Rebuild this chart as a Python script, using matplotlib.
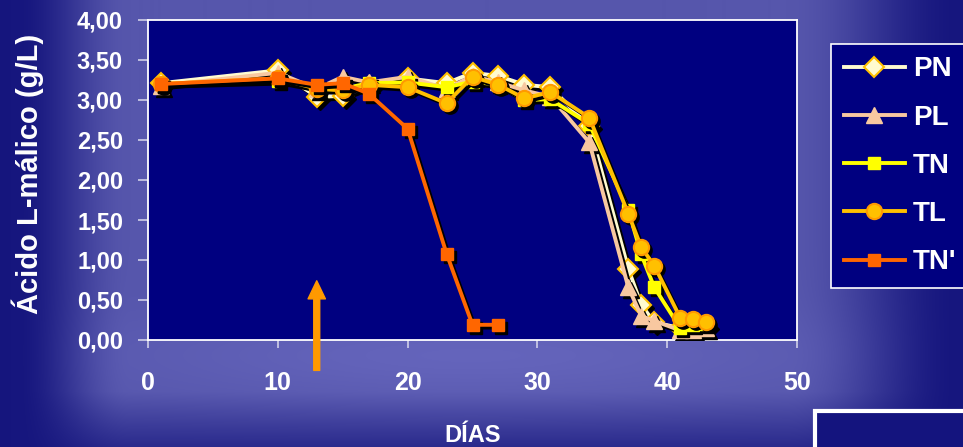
import numpy as np
import matplotlib
matplotlib.use('Agg')
import matplotlib.pyplot as plt
import matplotlib.transforms as mtransforms
from matplotlib.patches import Rectangle
from matplotlib.ticker import FuncFormatter, MultipleLocator

# Acido L-malico (g/L) por dia de fermentacion
days = [1, 10, 13, 15, 17, 20, 23, 25, 27, 29, 31, 34, 37, 38, 39, 41, 42, 43]
pn = [3.21, 3.37, 3.04, 3.05, 3.18, 3.27, 3.21, 3.34, 3.30, 3.19, 3.16, 2.67, 0.89, 0.44, 0.22, 0.15, 0.16, 0.17]
pl = [3.18, 3.34, 3.14, 3.29, 3.22, 3.29, 3.14, 3.30, 3.22, 3.12, 3.04, 2.47, 0.66, 0.30, 0.24, 0.12, 0.13, 0.15]
tn = [3.20, 3.24, 3.15, 3.14, 3.21, 3.22, 3.16, 3.23, 3.19, 3.00, 3.01, 2.70, 1.63, 1.07, 0.66, 0.15, 0.19, 0.20]
tl = [3.20, 3.27, 3.14, 3.12, 3.19, 3.16, 2.96, 3.29, 3.19, 3.02, 3.10, 2.78, 1.58, 1.16, 0.93, 0.28, 0.26, 0.23]
days_tn2 = [1, 10, 13, 15, 17, 20, 23, 25, 27]
tn2 = [3.20, 3.27, 3.19, 3.21, 3.08, 2.64, 1.08, 0.19, 0.19]

# arrow marking the inoculation day
arrow_day = 13
arrow_from, arrow_to = -0.38, 0.74

FONT = 'Liberation Sans'
W, H = 963, 447

fig = plt.figure(figsize=(W / 100, H / 100), dpi=100)

# background gradient (dark edges, lighter centre)
bg = fig.add_axes([0, 0, 1, 1])
bg.set_zorder(0)
yy, xx = np.mgrid[0:H, 0:W].astype(float)
tx = np.minimum(np.clip((xx - 15) / 115, 0, 1), np.clip((960 - xx) / 175, 0, 1))
tx = tx * tx * (3 - 2 * tx)
ty = np.clip(0.3 + (H - yy) / 80, 0.3, 1)
t = tx * ty
dark = np.array([0x16, 0x16, 0x7e]) / 255
light = np.array([0x56, 0x56, 0xac]) / 255
glow_c = np.array([0x70, 0x70, 0xc8]) / 255
img = dark + t[..., None] * (light - dark)
g = np.exp(-((xx - 470) / 340) ** 2 - ((yy - 355) / 45) ** 2) * tx
img = img + 0.55 * g[..., None] * (glow_c - img)
bg.imshow(img, aspect='auto', extent=[0, 1, 0, 1])
bg.axis('off')

ax = fig.add_axes([148 / W, 1 - 340 / H, 649 / W, 320 / H])
ax.set_zorder(1)
ax.set_facecolor('#000080')

shadow = mtransforms.offset_copy(ax.transData, fig=fig, x=3, y=-3, units='dots')

series = [
    ('PN', days, pn, dict(color='#fffbd0', marker='D', ms=10, mfc='#fffbd0', mec='#ffc000', mew=1.5)),
    ('PL', days, pl, dict(color='#f8c8a0', marker='^', ms=11, mfc='#f8c8a0', mec='#f8c8a0', mew=1)),
    ('TN', days, tn, dict(color='#ffff00', marker='s', ms=9, mfc='#ffff00', mec='#ffff00', mew=1)),
    ('TL', days, tl, dict(color='#ffc000', marker='o', ms=11, mfc='#ffc000', mec='#ff9900', mew=1.5)),
    ("TN'", days_tn2, tn2, dict(color='#ff6600', marker='s', ms=8, mfc='#ff6600', mec='#ff6600', mew=1)),
]

z = 3
for name, x, y, st in series:
    ax.plot(x, y, color='black', lw=2.5, marker=st['marker'], ms=st['ms'],
            mfc='black', mec='black', transform=shadow, zorder=z)
    ax.plot(x, y, lw=2.8, label=name, zorder=z + 1, **st)
    z += 2

ax.annotate('', xy=(arrow_day, arrow_to), xytext=(arrow_day, arrow_from),
            arrowprops=dict(facecolor='#ff9900', edgecolor='#ff9900', width=4.3,
                            headwidth=12.5, headlength=13, shrink=0),
            annotation_clip=False, zorder=20)

ax.set_xlim(0, 50)
ax.set_ylim(0, 4)
ax.xaxis.set_major_locator(MultipleLocator(10))
ax.yaxis.set_major_locator(MultipleLocator(0.5))
ax.yaxis.set_major_formatter(FuncFormatter(lambda v, p: f'{v:.2f}'.replace('.', ',')))

for s in ax.spines.values():
    s.set_color('white')
    s.set_linewidth(1.3)
ax.tick_params(axis='y', colors='#d0d0e8', length=7, width=1.2, pad=11)
ax.tick_params(axis='x', colors='#d0d0e8', length=6, width=1.2, pad=16)
for lab in ax.get_yticklabels():
    lab.set(color='white', fontweight='bold', fontsize=17, family=FONT)
for lab in ax.get_xticklabels():
    lab.set(color='white', fontweight='bold', fontsize=18, family=FONT)

fig.text(28 / W, 1 - 174 / H, 'Ácido L-málico (g/L)', rotation=90, ha='center', va='center',
         color='white', fontweight='bold', fontsize=21, family=FONT)
fig.text(473 / W, 1 - 442 / H, 'DÍAS', ha='center', va='baseline',
         color='white', fontweight='bold', fontsize=17, family=FONT)

leg = ax.legend(loc='upper left', bbox_to_anchor=(831 / W, 1 - 44 / H),
                bbox_transform=fig.transFigure, frameon=True, fancybox=False,
                prop=dict(family=FONT, weight='bold', size=20),
                handlelength=2.2, handletextpad=0.3, labelspacing=0.8,
                borderpad=0.45, borderaxespad=0)
leg.get_frame().set_facecolor('#000080')
leg.get_frame().set_edgecolor('white')
leg.get_frame().set_linewidth(1.2)
leg.get_frame().set_alpha(1)
for txt in leg.get_texts():
    txt.set_color('white')

box = Rectangle((815 / W, -0.1), 0.3, 0.1 + 1 - 411 / H, transform=fig.transFigure,
                facecolor='#14147e', edgecolor='white', linewidth=3, zorder=5)
fig.add_artist(box)

fig.savefig('out.png', dpi=100)
